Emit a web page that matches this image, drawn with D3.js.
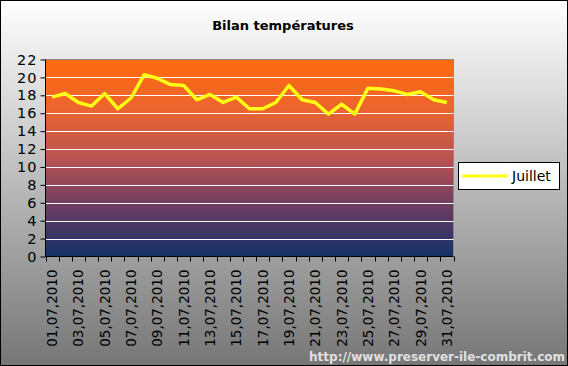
<!DOCTYPE html>
<html><head><meta charset="utf-8">
<script src="https://cdn.jsdelivr.net/npm/d3@7"></script>
<style>body{margin:0;}svg{display:block;} text{-webkit-font-smoothing:antialiased;}</style>
</head><body>
<script>
const days = ["01","02","03","04","05","06","07","08","09","10","11","12","13","14","15","16","17","18","19","20","21","22","23","24","25","26","27","28","29","30","31"];
const categories = days.map(d => d + ",07,2010");
const juillet = [17.8,18.2,17.2,16.8,18.2,16.5,17.7,20.3,19.9,19.2,19.1,17.5,18.1,17.2,17.8,16.5,16.5,17.2,19.1,17.5,17.2,15.9,17.0,15.9,18.8,18.7,18.5,18.1,18.4,17.5,17.2];
const yTicks = [0,2,4,6,8,10,12,14,16,18,20,22];
const title = "Bilan températures";
const seriesName = "Juillet";
const watermark = "http://www.preserver-ile-combrit.com";

const W = 568, H = 366;
const m = {left: 45.5, top: 59.5, right: 453.5, bottom: 256.5};
const svg = d3.select("body").append("svg").attr("width", W).attr("height", H);
const defs = svg.append("defs");
const bg = defs.append("linearGradient").attr("id","bg").attr("x1",0).attr("y1",0).attr("x2",0).attr("y2",1);
bg.append("stop").attr("offset","0%").attr("stop-color","#ffffff");
bg.append("stop").attr("offset","100%").attr("stop-color","#767676");
const pg = defs.append("linearGradient").attr("id","pg").attr("x1",0).attr("y1",0).attr("x2",0).attr("y2",1);
pg.append("stop").attr("offset","0%").attr("stop-color","#ff6a0c");
pg.append("stop").attr("offset","25%").attr("stop-color","#ec6430");
pg.append("stop").attr("offset","50%").attr("stop-color","#b85450");
pg.append("stop").attr("offset","75%").attr("stop-color","#6a3c62");
pg.append("stop").attr("offset","100%").attr("stop-color","#133067");

svg.append("rect").attr("x",0.5).attr("y",0.5).attr("width",W-1).attr("height",H-1)
  .attr("fill","url(#bg)").attr("stroke","#000");

const x = d3.scaleBand().domain(categories).range([m.left, m.right]);
const y = d3.scaleLinear().domain([0,22]).range([m.bottom, m.top]);

svg.append("rect").attr("x",m.left).attr("y",m.top).attr("width",m.right-m.left).attr("height",m.bottom-m.top)
  .attr("fill","url(#pg)").attr("stroke","#8a8a8a");

// gridlines
svg.append("g").selectAll("line").data(yTicks.filter(t => t>0 && t<22)).join("line")
  .attr("x1",m.left).attr("x2",m.right).attr("y1",d=>Math.round(y(d))+0.5).attr("y2",d=>Math.round(y(d))+0.5)
  .attr("stroke","#ffffff").attr("stroke-width",1);

// y axis
const ya = svg.append("g").attr("transform",`translate(${m.left},0)`)
  .call(d3.axisLeft(y).tickValues(yTicks).tickSize(5).tickPadding(3).tickFormat(d3.format("d")));
ya.select(".domain").attr("stroke","#000").attr("d",`M0,${m.top}V${m.bottom}`);
ya.selectAll("line").attr("stroke","#000");
ya.selectAll("text").attr("font-family","DejaVu Sans, sans-serif").attr("font-size",14.5).attr("letter-spacing",1).attr("fill","#000");

// x axis
const xa = svg.append("g").attr("transform",`translate(0,${m.bottom})`);
xa.append("line").attr("x1",m.left).attr("x2",m.right).attr("stroke","#000");
const bounds = d3.range(categories.length+1).map(i => m.left + i*x.step());
xa.selectAll(".tk").data(bounds).join("line").attr("class","tk")
  .attr("x1",d=>Math.round(d)+0.5).attr("x2",d=>Math.round(d)+0.5).attr("y1",0).attr("y2",5).attr("stroke","#000");
xa.selectAll("text").data(categories.filter((c,i)=>i%2===0)).join("text")
  .attr("transform",d=>`translate(${x(d)+x.bandwidth()/2+5},${13}) rotate(-90)`)
  .attr("text-anchor","end").attr("font-family","DejaVu Sans, sans-serif").attr("font-size",13.5)
  .attr("fill","#000").text(d=>d);

// line
const line = d3.line().x((d,i)=>x(categories[i])+x.bandwidth()/2).y(d=>y(d));
svg.append("path").datum(juillet).attr("d",line).attr("fill","none").attr("stroke","#ffff00").attr("stroke-width",3.5).attr("stroke-linejoin","round");
svg.append("path").datum(juillet).attr("d",line).attr("fill","none").attr("stroke","#ffffb0").attr("stroke-width",1).attr("stroke-dasharray","1,2");

// title
svg.append("text").attr("x",283).attr("y",30).attr("text-anchor","middle")
  .attr("font-family","Comic Sans MS, DejaVu Sans, sans-serif").attr("font-size",13).attr("font-weight","bold").attr("fill","#000").text(title);

// legend
const lg = svg.append("g");
lg.append("rect").attr("x",458.5).attr("y",162.5).attr("width",101).attr("height",27).attr("fill","#fff").attr("stroke","#000");
lg.append("line").attr("x1",462).attr("x2",508).attr("y1",176).attr("y2",176).attr("stroke","#ffff00").attr("stroke-width",3);
lg.append("line").attr("x1",462).attr("x2",508).attr("y1",176).attr("y2",176).attr("stroke","#ffffb0").attr("stroke-width",1).attr("stroke-dasharray","1,2");
lg.append("text").attr("x",512).attr("y",181).attr("font-family","DejaVu Sans, sans-serif").attr("font-size",14).attr("fill","#000").text(seriesName);

// watermark
svg.append("text").attr("x",565).attr("y",361).attr("text-anchor","end").attr("font-family","DejaVu Sans, sans-serif")
  .attr("font-size",12).attr("font-weight","bold").attr("fill","#e0e0e0").text(watermark);
</script>
</body></html>
